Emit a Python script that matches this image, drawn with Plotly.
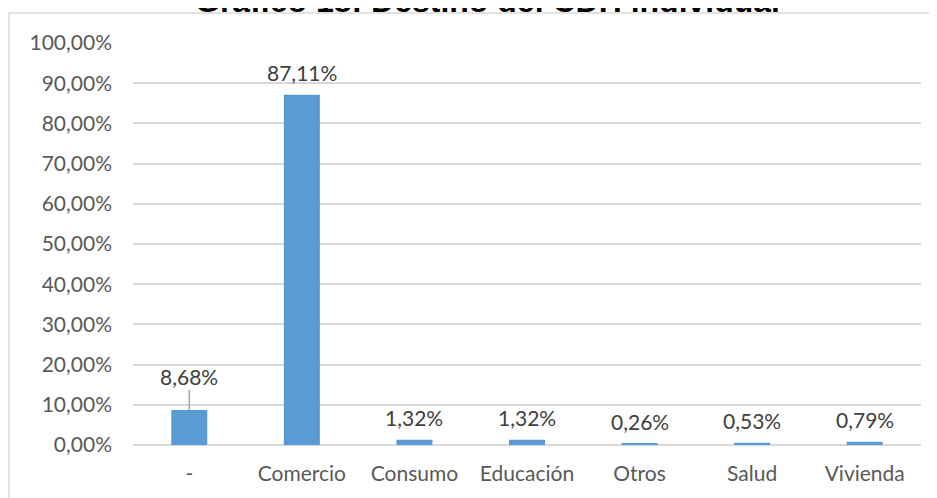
import plotly.graph_objects as go

# data
categorias = ["-", "Comercio", "Consumo", "Educación", "Otros", "Salud", "Vivienda"]
porcentajes = [8.68, 87.11, 1.32, 1.32, 0.26, 0.53, 0.79]
ticks_y = [0, 10, 20, 30, 40, 50, 60, 70, 80, 90, 100]
ticks_txt = [f"{t:.2f}%".replace(".", ",") for t in ticks_y]

azul = "#5B9BD5"
gris_txt = "#595959"
gris_lbl = "#404040"
gris_linea = "#d9d9d9"

fmt = lambda v: f"{v:.2f}%".replace(".", ",")

fig = go.Figure()
fig.add_trace(go.Bar(
    x=categorias, y=porcentajes,
    marker=dict(color=azul, line=dict(width=0)),
))

# data labels; the "-" one sits higher with a leader line
for c, v in zip(categorias, porcentajes):
    if c == "-":
        fig.add_annotation(
            x=c, y=v, text=fmt(v),
            showarrow=True, arrowhead=0, arrowwidth=1.5, arrowcolor="#a6a6a6",
            ax=0, ay=-34, standoff=0,
            font=dict(family="Lato", size=21, color=gris_lbl),
        )
    else:
        fig.add_annotation(
            x=c, y=v, text=fmt(v), showarrow=False,
            yanchor="middle", yshift=22,
            font=dict(family="Lato", size=21, color=gris_lbl),
        )

# title, cropped at the top like in the original
fig.add_annotation(
    text="<b>Gráfico 18: Destino del CDH individual</b>",
    xref="paper", yref="paper", x=0.45, y=1.1045,
    xanchor="center", yanchor="middle", showarrow=False,
    font=dict(family="Liberation Sans", size=32, color="black"),
)

# chart frame (cropped on the right and bottom in the original)
fig.add_shape(type="rect", xref="paper", yref="paper",
              x0=-0.1574, x1=1.2, y0=-0.4, y1=1.0746,
              line=dict(color=gris_linea, width=1.5), layer="below")

# page body adds 8px, so the figure is a bit smaller and shifted
fig.update_layout(
    width=929, height=490,
    margin=dict(l=125, r=16, t=35, b=53, autoexpand=False),
    paper_bgcolor="white", plot_bgcolor="white",
    bargap=0.68,
    showlegend=False,
)
fig.update_xaxes(
    type="category", showgrid=False, showline=False, ticks="",
    tickfont=dict(family="Lato", size=21, color=gris_txt),
    ticklabelstandoff=14, automargin=False,
)
fig.update_yaxes(
    range=[0, 100], tickvals=ticks_y, ticktext=ticks_txt,
    showgrid=True, gridcolor=gris_linea, gridwidth=1.5,
    zeroline=True, zerolinecolor=gris_linea, zerolinewidth=1.5,
    showline=False, ticks="",
    tickfont=dict(family="Lato", size=21, color=gris_txt),
    ticklabelstandoff=20, automargin=False,
)

fig.write_html("out.html")
